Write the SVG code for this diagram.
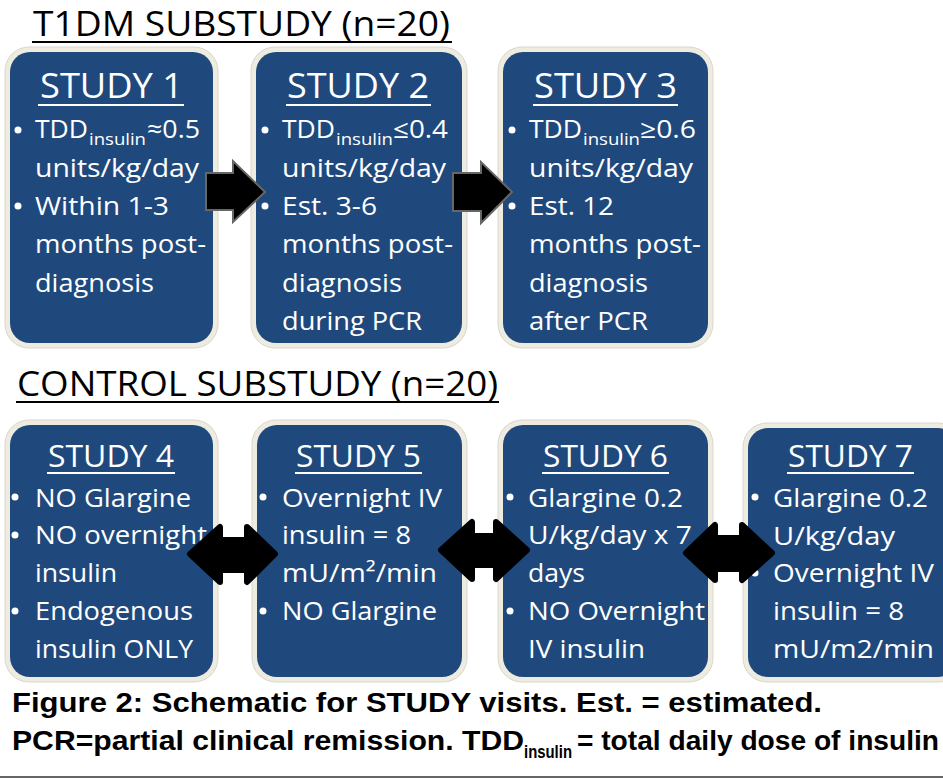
<svg xmlns="http://www.w3.org/2000/svg" width="943" height="778" viewBox="0 0 943 778">
<style>
.frame{fill:#EEECE1;stroke:#d9d7cc;stroke-width:1}
.box{fill:#1F497D}
.t{font-family:"Open Sans","Lato",sans-serif;fill:#fff}
.b{font-size:25px}
.h1{font-size:35px}
.h2{font-size:31px}
.sub{font-size:16px}
.ul{stroke:#fff;stroke-width:2}
.bl{fill:#fff}
.ttl{font-family:"Open Sans","Lato",sans-serif;font-size:34px;fill:#000}
.ulk{stroke:#000;stroke-width:2}
.cap{font-family:"Liberation Sans",Arial,sans-serif;font-weight:bold;font-size:28px;fill:#000}
.cs{font-family:"Liberation Sans",Arial,sans-serif;font-weight:bold;font-size:18px;fill:#000}
.arr1{fill:#000;stroke:#666;stroke-width:2}
.arr2{fill:#000;stroke:#000;stroke-width:6;stroke-linejoin:round}
</style>
<rect width="943" height="778" fill="#fff"/>

<g id="title-t1dm">
<text class="ttl" x="33" y="36" textLength="417" lengthAdjust="spacingAndGlyphs">T1DM SUBSTUDY (n=20)</text>
<line class="ulk" x1="32" y1="42" x2="452" y2="42"/>
</g>

<g id="study1">
<rect class="frame" x="5" y="47" width="213" height="301" rx="24"/>
<rect class="box" x="10" y="52" width="203" height="291" rx="20"/>
<text class="t h1" x="40" y="98" textLength="143" lengthAdjust="spacingAndGlyphs">STUDY 1</text>
<line class="ul" x1="38" y1="105" x2="184" y2="105"/>
<circle class="bl" cx="18" cy="130" r="3.5"/>
<text class="t b" x="35" y="138" textLength="53" lengthAdjust="spacingAndGlyphs">TDD</text>
<text class="t sub" x="89" y="145" textLength="57" lengthAdjust="spacingAndGlyphs">insulin</text>
<text class="t b" x="147" y="138" textLength="53" lengthAdjust="spacingAndGlyphs">≈0.5</text>
<text class="t b" x="35" y="177" textLength="164" lengthAdjust="spacingAndGlyphs">units/kg/day</text>
<circle class="bl" cx="18" cy="206" r="3.5"/>
<text class="t b" x="35" y="215" textLength="134" lengthAdjust="spacingAndGlyphs">Within 1-3</text>
<text class="t b" x="35" y="253" textLength="171" lengthAdjust="spacingAndGlyphs">months post-</text>
<text class="t b" x="35" y="292" textLength="119" lengthAdjust="spacingAndGlyphs">diagnosis</text>
</g>

<g id="study2">
<rect class="frame" x="251" y="47" width="216" height="301" rx="24"/>
<rect class="box" x="256" y="52" width="206" height="291" rx="20"/>
<text class="t h1" x="287" y="98" textLength="142" lengthAdjust="spacingAndGlyphs">STUDY 2</text>
<line class="ul" x1="286" y1="105" x2="431" y2="105"/>
<circle class="bl" cx="265" cy="130" r="3.5"/>
<text class="t b" x="282" y="138" textLength="53" lengthAdjust="spacingAndGlyphs">TDD</text>
<text class="t sub" x="336" y="145" textLength="57" lengthAdjust="spacingAndGlyphs">insulin</text>
<text class="t b" x="393" y="138" textLength="55" lengthAdjust="spacingAndGlyphs">≤0.4</text>
<text class="t b" x="282" y="177" textLength="164" lengthAdjust="spacingAndGlyphs">units/kg/day</text>
<circle class="bl" cx="265" cy="206" r="3.5"/>
<text class="t b" x="282" y="215" textLength="95" lengthAdjust="spacingAndGlyphs">Est. 3-6</text>
<text class="t b" x="282" y="253" textLength="171" lengthAdjust="spacingAndGlyphs">months post-</text>
<text class="t b" x="282" y="292" textLength="120" lengthAdjust="spacingAndGlyphs">diagnosis</text>
<text class="t b" x="282" y="330" textLength="140" lengthAdjust="spacingAndGlyphs">during PCR</text>
</g>

<g id="study3">
<rect class="frame" x="498" y="47" width="215" height="301" rx="24"/>
<rect class="box" x="503" y="52" width="205" height="291" rx="20"/>
<text class="t h1" x="534" y="98" textLength="143" lengthAdjust="spacingAndGlyphs">STUDY 3</text>
<line class="ul" x1="533" y1="105" x2="678" y2="105"/>
<circle class="bl" cx="512" cy="130" r="3.5"/>
<text class="t b" x="529" y="138" textLength="53" lengthAdjust="spacingAndGlyphs">TDD</text>
<text class="t sub" x="583" y="145" textLength="57" lengthAdjust="spacingAndGlyphs">insulin</text>
<text class="t b" x="640" y="138" textLength="56" lengthAdjust="spacingAndGlyphs">≥0.6</text>
<text class="t b" x="529" y="177" textLength="164" lengthAdjust="spacingAndGlyphs">units/kg/day</text>
<circle class="bl" cx="512" cy="206" r="3.5"/>
<text class="t b" x="529" y="215" textLength="85" lengthAdjust="spacingAndGlyphs">Est. 12</text>
<text class="t b" x="529" y="253" textLength="172" lengthAdjust="spacingAndGlyphs">months post-</text>
<text class="t b" x="529" y="292" textLength="119" lengthAdjust="spacingAndGlyphs">diagnosis</text>
<text class="t b" x="529" y="330" textLength="119" lengthAdjust="spacingAndGlyphs">after PCR</text>
</g>

<g id="title-control">
<text class="ttl" x="17" y="396" textLength="481" lengthAdjust="spacingAndGlyphs">CONTROL SUBSTUDY (n=20)</text>
<line class="ulk" x1="16" y1="402" x2="499" y2="402"/>
</g>

<g id="study4">
<rect class="frame" x="5" y="420" width="213" height="262" rx="24"/>
<rect class="box" x="10" y="425" width="203" height="252" rx="20"/>
<text class="t h2" x="48" y="467" textLength="126" lengthAdjust="spacingAndGlyphs">STUDY 4</text>
<line class="ul" x1="47" y1="473" x2="175" y2="473"/>
<circle class="bl" cx="15" cy="497" r="3.5"/>
<text class="t b" x="35" y="507" textLength="156" lengthAdjust="spacingAndGlyphs">NO Glargine</text>
<circle class="bl" cx="15" cy="535" r="3.5"/>
<text class="t b" x="35" y="544" textLength="172" lengthAdjust="spacingAndGlyphs">NO overnight</text>
<text class="t b" x="35" y="582" textLength="82" lengthAdjust="spacingAndGlyphs">insulin</text>
<circle class="bl" cx="15" cy="611" r="3.5"/>
<text class="t b" x="35" y="620" textLength="158" lengthAdjust="spacingAndGlyphs">Endogenous</text>
<text class="t b" x="35" y="658" textLength="158" lengthAdjust="spacingAndGlyphs">insulin ONLY</text>
</g>

<g id="study5">
<rect class="frame" x="252" y="420" width="215" height="262" rx="24"/>
<rect class="box" x="257" y="425" width="205" height="252" rx="20"/>
<text class="t h2" x="296" y="467" textLength="125" lengthAdjust="spacingAndGlyphs">STUDY 5</text>
<line class="ul" x1="295" y1="473" x2="422" y2="473"/>
<circle class="bl" cx="263" cy="497" r="3.5"/>
<text class="t b" x="282" y="507" textLength="160" lengthAdjust="spacingAndGlyphs">Overnight IV</text>
<text class="t b" x="282" y="544" textLength="129" lengthAdjust="spacingAndGlyphs">insulin = 8</text>
<text class="t b" x="282" y="582" textLength="155" lengthAdjust="spacingAndGlyphs">mU/m²/min</text>
<circle class="bl" cx="263" cy="611" r="3.5"/>
<text class="t b" x="282" y="620" textLength="155" lengthAdjust="spacingAndGlyphs">NO Glargine</text>
</g>

<g id="study6">
<rect class="frame" x="498" y="420" width="215" height="262" rx="24"/>
<rect class="box" x="503" y="425" width="205" height="252" rx="20"/>
<text class="t h2" x="543" y="467" textLength="125" lengthAdjust="spacingAndGlyphs">STUDY 6</text>
<line class="ul" x1="542" y1="473" x2="669" y2="473"/>
<circle class="bl" cx="510" cy="497" r="3.5"/>
<text class="t b" x="528" y="507" textLength="155" lengthAdjust="spacingAndGlyphs">Glargine 0.2</text>
<text class="t b" x="528" y="544" textLength="164" lengthAdjust="spacingAndGlyphs">U/kg/day x 7</text>
<text class="t b" x="528" y="582" textLength="57" lengthAdjust="spacingAndGlyphs">days</text>
<circle class="bl" cx="510" cy="611" r="3.5"/>
<text class="t b" x="528" y="620" textLength="177" lengthAdjust="spacingAndGlyphs">NO Overnight</text>
<text class="t b" x="528" y="658" textLength="117" lengthAdjust="spacingAndGlyphs">IV insulin</text>
</g>

<g id="study7">
<rect class="frame" x="743" y="423" width="220" height="259" rx="24"/>
<rect class="box" x="748" y="428" width="210" height="249" rx="20"/>
<text class="t h2" x="788" y="467" textLength="125" lengthAdjust="spacingAndGlyphs">STUDY 7</text>
<line class="ul" x1="787" y1="473" x2="914" y2="473"/>
<circle class="bl" cx="755" cy="497" r="3.5"/>
<text class="t b" x="773" y="507" textLength="155" lengthAdjust="spacingAndGlyphs">Glargine 0.2</text>
<text class="t b" x="773" y="545" textLength="122" lengthAdjust="spacingAndGlyphs">U/kg/day</text>
<circle class="bl" cx="755" cy="573" r="3.5"/>
<text class="t b" x="773" y="582" textLength="161" lengthAdjust="spacingAndGlyphs">Overnight IV</text>
<text class="t b" x="773" y="620" textLength="131" lengthAdjust="spacingAndGlyphs">insulin = 8</text>
<text class="t b" x="773" y="658" textLength="161" lengthAdjust="spacingAndGlyphs">mU/m2/min</text>
</g>

<g id="connectors">
<path class="arr1" d="M206,173 L233,173 L233,161 L265,192 L233,222 L233,210 L206,210 Z"/>
<path class="arr1" d="M453,173 L481,173 L481,162 L512,192 L481,223 L481,211 L453,211 Z"/>
<path class="arr2" d="M190,554 L220,527 L220,540 L247,540 L247,527 L275,554 L247,582 L247,570 L220,570 L220,582 Z"/>
<path class="arr2" d="M441,550 L472,522 L472,536 L496,536 L496,522 L527,550 L496,579 L496,565 L472,565 L472,579 Z"/>
<path class="arr2" d="M686,553 L715,525 L715,538 L742,538 L742,525 L772,553 L742,580 L742,569 L715,569 L715,580 Z"/>
</g>

<g id="caption">
<text class="cap" x="12" y="712" textLength="810" lengthAdjust="spacingAndGlyphs">Figure 2: Schematic for STUDY visits. Est. = estimated.</text>
<text class="cap" x="12" y="750" textLength="512" lengthAdjust="spacingAndGlyphs">PCR=partial clinical remission. TDD</text>
<text class="cs" x="524" y="758" textLength="48" lengthAdjust="spacingAndGlyphs">insulin</text>
<text class="cap" x="577" y="750" textLength="362" lengthAdjust="spacingAndGlyphs">= total daily dose of insulin</text>
</g>
<rect x="0" y="776" width="943" height="2" fill="#666"/>
</svg>
